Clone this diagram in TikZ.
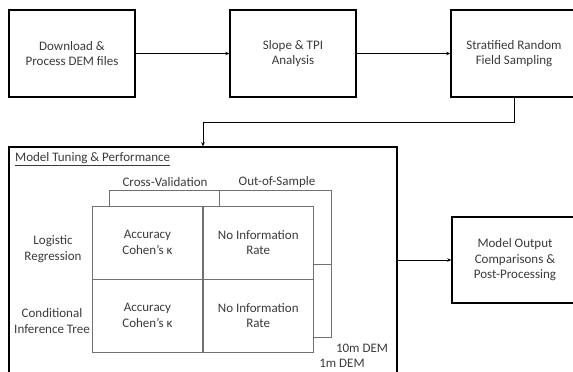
\documentclass[tikz,border=0pt]{standalone}
\usepackage{fontspec}
\setmainfont{Carlito}
\usetikzlibrary{arrows.meta}
\definecolor{txt}{HTML}{3A3A3A}
\definecolor{gridc}{HTML}{707070}

\begin{document}
\begin{tikzpicture}[x=1pt,y=-1pt,
  every node/.style={font=\fontsize{13}{15.6}\selectfont, text=txt, inner sep=0pt},
  stepbox/.style={draw=black, line width=1.4pt, minimum width=126pt, minimum height=87pt, align=center},
  cell/.style={draw=gridc, line width=0.9pt, minimum width=110.5pt, minimum height=73pt, align=center},
  lbl/.style={align=center},
  link/.style={draw=black, line width=0.9pt, -{Stealth[length=4pt,width=3.5pt]}},
  brk/.style={draw=gridc, line width=0.9pt}]
\clip (0,0) rectangle (573,372);

% processing chain
\node[stepbox] (dl)    at (72,53.5)  {Download \&\\Process DEM files};
\node[stepbox] (slope) at (293,53.5) {Slope \& TPI\\Analysis};
\node[stepbox] (strat) at (514,53.5) {Stratified Random\\Field Sampling};
\node[stepbox, minimum height=86pt] (post) at (515,260) {Model Output\\Comparisons \&\\Post-Processing};

% model tuning panel
\node[draw=black, line width=1.4pt, minimum width=388pt, minimum height=226pt] (mt) at (203,260) {};
\node[anchor=west] (title) at (15,159) {\underline{Model Tuning \& Performance}};

% result grid
\node[cell] (c11) at (147.5,242.5) {Accuracy\\Cohen’s κ};
\node[cell] (c12) at (258.25,242.5) {No Information\\Rate};
\node[cell] (c21) at (147.5,315.5) {Accuracy\\Cohen’s κ};
\node[cell] (c22) at (258.25,315.5) {No Information\\Rate};

\node[lbl] (lr)  at (53,249) {Logistic\\Regression};
\node[lbl] (cit) at (52,321) {Conditional\\Inference Tree};
\node (cv)  at (165,182) {Cross-Validation};
\node (oos) at (277,182) {Out-of-Sample};
\node (d10) at (362,348) {10m DEM};
\node (d1)  at (342,363) {1m DEM};

% brackets
\coordinate (cvl) at ([xshift=18pt]c11.north west);
\coordinate (cvr) at ([xshift=17pt]c12.north west);
\coordinate (br)  at ([xshift=17.5pt,yshift=15.5pt]c12.north east);
\draw[brk] (cvl) -- ++(0,-15.5) -| (cvr);
\draw[brk] ([yshift=15.5pt]cvr) -- (br) |- ([yshift=15pt]c22.south east);
\draw[brk] ([yshift=15pt]c12.south east) -- ++(17.5,0);

% connectors
\draw[link] (dl) -- (slope);
\draw[link] (slope) -- (strat);
\draw[link] (strat.south) -- ++(0,25) -| (mt.north);
\draw[link] (mt) -- (post);
\end{tikzpicture}
\end{document}
